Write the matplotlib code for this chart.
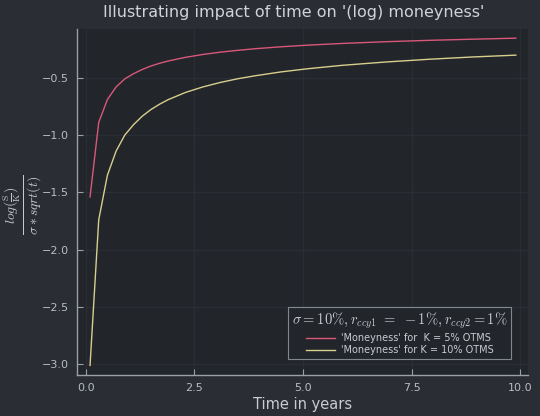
import matplotlib
matplotlib.use("Agg")
import matplotlib.pyplot as plt

# Data
t_years = [0.1, 0.3, 0.5, 0.7, 0.9, 1.1, 1.3, 1.5, 1.7, 1.9, 2.3, 2.7, 3.1, 3.5, 3.9,
           4.5, 5.1, 5.9, 6.9, 7.9, 8.9, 9.9]
money_5 = [-1.54, -0.89, -0.69, -0.58, -0.51, -0.465, -0.428, -0.398, -0.374, -0.354,
           -0.322, -0.297, -0.277, -0.261, -0.247, -0.230, -0.216, -0.201, -0.186,
           -0.174, -0.164, -0.155]
money_10 = [-3.01, -1.74, -1.35, -1.14, -1.00, -0.91, -0.836, -0.778, -0.731, -0.691,
            -0.628, -0.580, -0.541, -0.509, -0.483, -0.449, -0.422, -0.392, -0.363,
            -0.339, -0.319, -0.303]
xticks = [0.0, 2.5, 5.0, 7.5, 10.0]
yticks = [-3.0, -2.5, -2.0, -1.5, -1.0, -0.5]
labels = ["'Moneyness' for  K = 5% OTMS", "'Moneyness' for K = 10% OTMS"]

plt.rcParams['mathtext.fontset'] = 'cm'
fig_bg = '#2a2d33'
ax_bg = '#22252a'
fg = '#b8bcc4'

fig = plt.figure(figsize=(5.4, 4.16), dpi=100, facecolor=fig_bg)
ax = fig.add_axes([77/540, 1-375/416, (528-77)/540, (375-29)/416], facecolor=ax_bg)

ax.plot(t_years, money_5, color='#d9587a', lw=1.0, label=labels[0])
ax.plot(t_years, money_10, color='#d8cf8c', lw=1.0, label=labels[1])

ax.set_xlim(-0.2, 10.18)
ax.set_ylim(-3.093, -0.075)
ax.set_xticks(xticks)
ax.set_yticks(yticks)
ax.set_xticklabels([f"{v:.1f}" for v in xticks])
ax.set_yticklabels([f"\u2212{abs(v):.1f}" for v in yticks])
ax.grid(True, color='#2a2e34', lw=1.0)
ax.set_axisbelow(True)
for s in ['top', 'right']:
    ax.spines[s].set_visible(False)
for s in ['left', 'bottom']:
    ax.spines[s].set_color('#9aa0a8')
    ax.spines[s].set_linewidth(1.0)
ax.tick_params(direction='in', colors='#9aa0a8', labelcolor=fg, labelsize=8, length=4, pad=6)

fig.text(294/540, 1-12/416, "Illustrating impact of time on '(log) moneyness'",
         ha='center', va='center', color='#d0d3d8', fontsize=11.5)
ax.set_xlabel("Time in years", color='#c8ccd2', fontsize=10.5, labelpad=3)
fig.text(22/540, 1-205/416,
         r"$\frac{log(\frac{\mathrm{S}}{\mathrm{K}})}{\sigma*sqrt(t)}$",
         rotation=90, ha='center', va='center', color='#c8ccd2', fontsize=14)

leg = ax.legend(loc='lower right', bbox_to_anchor=(516/540, 1-364/416),
                bbox_transform=fig.transFigure,
                title=r"$\sigma = 10\%, r_{ccy1}\ = \ -1\%, r_{ccy2} = 1\%$",
                fontsize=7, title_fontsize=10.5, frameon=True, fancybox=False,
                borderpad=0.4, labelspacing=0.2, handlelength=3.0, handletextpad=0.6)
leg.get_frame().set_facecolor(ax_bg)
leg.get_frame().set_edgecolor('#9aa0a8')
leg.get_frame().set_linewidth(0.8)
leg.get_title().set_color('#c8ccd2')
for txt in leg.get_texts():
    txt.set_color('#c8ccd2')

fig.savefig('out.png', dpi=100, facecolor=fig_bg)
